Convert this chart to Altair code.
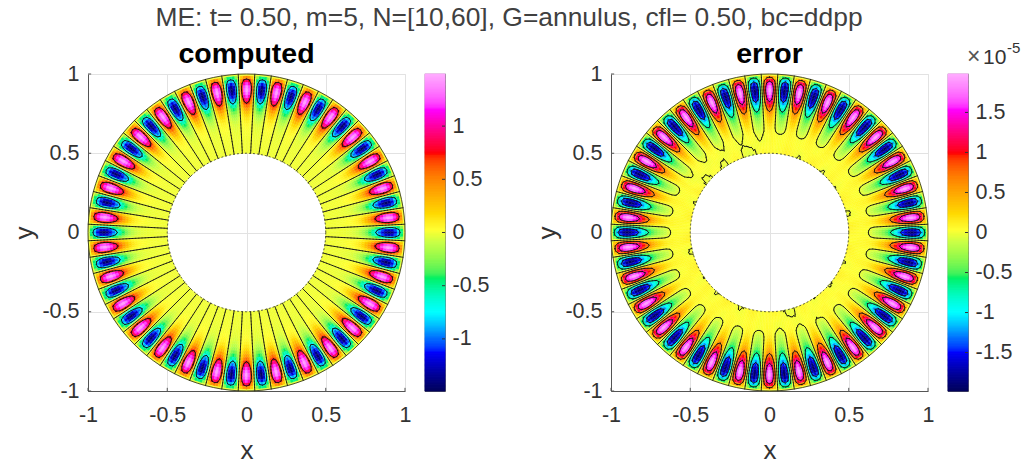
import math
import numpy as np
import pandas as pd
import altair as alt

FONT = "Liberation Sans"
TITLE = "ME: t= 0.50, m=5, N=[10,60], G=annulus, cfl= 0.50, bc=ddpp"

# radii of the annulus sample rings
r_nodes = [.50, .52, .54, .56, .58, .60, .62, .64, .66, .68, .70, .72, .74, .76, .78, .80, .82, .84, .86, .88, .90, .92, .94, .96, .98, 1.00]
# amplitude of the lobes with radius
computed_amp = [.002, .002, .003, .004, .006, .009, .013, .02, .03, .05, .08, .13, .2, .3, .42, .58, .78, 1.0, 1.22, 1.38, 1.46, 1.4, 1.2, .9, .5, .02]
error_amp = [.004, .005, .007, .01, .015, .02, .035, .08, .14, .2, .27, .36, .48, .62, .8, 1.0, 1.25, 1.5, 1.72, 1.88, 1.95, 1.85, 1.6, 1.2, .65, .03]
# small positive background of the error near the inner circle
error_bias = [.05, .05, .05, .05, .05, .05, .05, .02, .005, 0, 0, 0, 0, 0, 0, 0, 0, 0, 0, 0, 0, 0, 0, 0, 0, 0]
# strength of that background per 30 degree sector
error_sector = [1, 1, .9, .3, .4, 1, 1, 1, .8, .5, .9, 1]
# irregular ripple at the inner circle, per 2 degrees
error_ripple = [.03, .05, .06, .04, 0, -.03, -.06, -.07, -.05, -.02, .02, .05, .07, .05, .02, -.01, -.04, -.05, -.03, .01, .04, .03, 0, -.03, -.06, -.05, -.02, .01, .05, .07, .06, .03, -.01, -.04, -.06, -.04, -.01, .02, .04, .06, .04, .01, -.02, -.01, .01]
# one period (12 degrees) of the lobe pattern around the circle
lobe_period = [-1, -.87, -.5, 0, .5, .87, 1, .87, .5, 0, -.5, -.87]

tick_vals = [-1, -.5, 0, .5, 1]
cb1_ticks = [-1, -.5, 0, .5, 1]
cb2_ticks = [-1.5, -1, -.5, 0, .5, 1, 1.5]
computed_limit = 1.49
error_limit = 1.98
computed_levels = [-.73, 0, .73]
error_levels = [-1.3, -.65, 0, .65, 1.3]

cmap_pos = [0, .055, .125, .17, .25, .36, .47, .51, .66, .75, .89, 1]
cmap_col = ["#00005a", "#00009a", "#0000ff", "#0070ff", "#00ffff", "#00f060", "#c8ff46", "#ffff32", "#ff8c00", "#ff0000", "#ff00ff", "#ffaaff"]

W = 317
CB = 20
THETAS = 360


def field(amp, bias=None):
    grid = np.zeros((len(r_nodes), THETAS))
    for i, a in enumerate(amp):
        for j in range(THETAS):
            v = a * lobe_period[j % 12]
            if bias is not None:
                v += bias[i] * error_sector[j // 30]
                if r_nodes[i] < .58:
                    v += error_ripple[(j // 2) % len(error_ripple)] * (.58 - r_nodes[i]) / .08
            grid[i, j] = v
    return grid


def cells(grid):
    rows = []
    n = len(r_nodes)
    for i in range(n):
        r0 = r_nodes[i] if i == 0 else (r_nodes[i - 1] + r_nodes[i]) / 2
        r1 = r_nodes[i] if i == n - 1 else (r_nodes[i] + r_nodes[i + 1]) / 2
        for j in range(THETAS):
            rows.append((r0, r1, 90 - j + .5, 90 - j - .5, round(float(grid[i, j]), 4)))
    return pd.DataFrame(rows, columns=["r0", "r1", "t0", "t1", "v"])


def contour(grid, levels):
    segs = []
    def pt(i, j):
        t = math.radians(j)
        return r_nodes[i] * math.cos(t), r_nodes[i] * math.sin(t)
    for lev in levels:
        for i in range(len(r_nodes) - 1):
            for j in range(THETAS):
                k = (j + 1) % THETAS
                corners = [(i, j), (i, j + 1), (i + 1, j + 1), (i + 1, j)]
                vals = [grid[i, j], grid[i, k], grid[i + 1, k], grid[i + 1, j]]
                xs = []
                for a in range(4):
                    b = (a + 1) % 4
                    if (vals[a] >= lev) != (vals[b] >= lev):
                        f = (lev - vals[a]) / (vals[b] - vals[a])
                        pa, pb = pt(*corners[a]), pt(*corners[b])
                        xs.append((pa[0] + f * (pb[0] - pa[0]), pa[1] + f * (pb[1] - pa[1])))
                for s in range(0, len(xs) - 1, 2):
                    segs.append((round(xs[s][0], 4), round(xs[s][1], 4), round(xs[s + 1][0], 4), round(xs[s + 1][1], 4)))
    return pd.DataFrame(segs, columns=["x", "y", "x2", "y2"])


def circle(radius):
    return pd.DataFrame({
        "x": [radius * math.cos(math.radians(a)) for a in range(0, 361, 3)],
        "y": [radius * math.sin(math.radians(a)) for a in range(0, 361, 3)],
        "o": list(range(0, 361, 3)),
    })


def colour_scale(limit):
    return alt.Scale(domain=[-limit + 2 * limit * p for p in cmap_pos], range=cmap_col, clamp=True)


def panel(grid, levels, limit, name):
    xs = alt.Scale(domain=[-1, 1], nice=False, zero=False)
    ys = alt.Scale(domain=[-1, 1], nice=False, zero=False)
    common = dict(values=tick_vals, labelExpr="datum.value", grid=True, gridColor="#e2e2e2", gridWidth=1,
                  tickSize=0, domainColor="#555555", domainWidth=1, labelFont=FONT, labelFontSize=21.5, labelFlush=False,
                  labelColor="#333333", titleFont=FONT, titleFontSize=26, titleColor="#333333", titleFontWeight="normal")
    xax = alt.Axis(title="x", labelPadding=13, titlePadding=12, labelAngle=0, **common)
    yax = alt.Axis(title="y", labelPadding=9, titlePadding=4, **common)

    ticks = pd.DataFrame({"v": tick_vals, "lo": [-1] * 5, "in": [-.98] * 5})
    left = alt.Chart(ticks).mark_rule(color="#555555", strokeWidth=1).encode(
        x=alt.X("lo:Q", scale=xs, axis=xax), x2="in:Q", y=alt.Y("v:Q", scale=ys, axis=yax))
    bottom = alt.Chart(ticks).mark_rule(color="#555555", strokeWidth=1).encode(
        x=alt.X("v:Q", scale=xs, axis=xax), y=alt.Y("lo:Q", scale=ys, axis=yax), y2="in:Q")

    cs = colour_scale(limit)
    arcs = alt.Chart(cells(grid)).mark_arc(strokeWidth=.4).encode(
        theta=alt.Theta("t0:Q", scale=alt.Scale(domain=[0, 360]), stack=None),
        theta2="t1:Q",
        radius=alt.Radius("r1:Q", scale=alt.Scale(domain=[0, 1], range=[0, W / 2], zero=True)),
        radius2="r0:Q",
        color=alt.Color("v:Q", scale=cs, legend=None),
        stroke=alt.Stroke("v:Q", scale=cs, legend=None),
    )
    lines = alt.Chart(contour(grid, levels)).mark_rule(color="#111111", strokeWidth=.9, strokeCap="round").encode(
        x=alt.X("x:Q", scale=xs, axis=xax), x2="x2:Q", y=alt.Y("y:Q", scale=ys, axis=yax), y2="y2:Q")
    outer = alt.Chart(circle(1)).mark_line(color="#222222", strokeWidth=.8).encode(
        x=alt.X("x:Q", scale=xs, axis=xax), y=alt.Y("y:Q", scale=ys, axis=yax), order="o:Q")
    inner = alt.Chart(circle(.5)).mark_line(color="#333333", strokeWidth=.8, strokeDash=[2, 2]).encode(
        x=alt.X("x:Q", scale=xs, axis=xax), y=alt.Y("y:Q", scale=ys, axis=yax), order="o:Q")
    return alt.layer(left, bottom, arcs, lines, outer, inner).resolve_scale(color="independent", stroke="independent").properties(
        width=W, height=W,
        title=alt.TitleParams(name, font=FONT, fontSize=28.5, fontWeight="bold", color="#000000", offset=-5),
        view=alt.ViewConfig(stroke="#e2e2e2"),
    )


def colourbar(limit, tick_values, extra=None):
    edges = np.linspace(-limit, limit, 257)
    d = pd.DataFrame({"a": edges[:-1], "b": edges[1:], "v": (edges[:-1] + edges[1:]) / 2, "x": [0] * 256, "x1": [1] * 256})
    ys = alt.Scale(domain=[-limit, limit], nice=False, zero=False)
    bx = alt.Scale(domain=[0, 1])
    bar = alt.Chart(d).mark_rect(strokeWidth=1).encode(
        x=alt.X("x:Q", scale=bx, axis=None), x2="x1:Q",
        y=alt.Y("a:Q", scale=ys, axis=alt.Axis(orient="right", values=tick_values, labelExpr="datum.value", title=None,
                                                 grid=False, tickSize=0, domain=False, labelFont=FONT, labelFontSize=21.5,
                                                 labelFlush=False, labelColor="#333333", labelPadding=7)),
        y2="b:Q",
        color=alt.Color("v:Q", scale=colour_scale(limit), legend=None),
        stroke=alt.Stroke("v:Q", scale=colour_scale(limit), legend=None),
    )
    t = pd.DataFrame({"v": tick_values, "p": [.85] * len(tick_values), "q": [1] * len(tick_values)})
    marks = alt.Chart(t).mark_rule(color="#333333", strokeWidth=1).encode(
        x=alt.X("p:Q", scale=bx, axis=None), x2="q:Q", y=alt.Y("v:Q", scale=ys))
    layers = [bar, marks]
    if extra:
        layers += extra
    return alt.layer(*layers).resolve_scale(color="independent", stroke="independent").properties(
        width=CB, height=W, view=alt.ViewConfig(stroke="#666666", strokeWidth=1.2))


exp_base = alt.Chart(pd.DataFrame({"s": ["×"]})).mark_text(font=FONT, fontSize=23, color="#555555", align="left", baseline="alphabetic").encode(
    x=alt.value(19), y=alt.value(-10), text="s:N")
exp_ten = alt.Chart(pd.DataFrame({"s": ["10"]})).mark_text(font=FONT, fontSize=21, color="#333333", align="left", baseline="alphabetic").encode(
    x=alt.value(35), y=alt.value(-10), text="s:N")
exp_pow = alt.Chart(pd.DataFrame({"s": ["-5"]})).mark_text(font=FONT, fontSize=15, color="#333333", align="left", baseline="alphabetic").encode(
    x=alt.value(59), y=alt.value(-21), text="s:N")

g1 = field(computed_amp)
g2 = field(error_amp, error_bias)

# gap between the first colour bar and the second panel, holding the figure title
spacer = alt.Chart(pd.DataFrame({"s": [TITLE]})).mark_text(font=FONT, fontSize=26.4, color="#404040", align="center", baseline="alphabetic").encode(
    x=alt.value(44), y=alt.value(-48), text="s:N").properties(width=126, height=W, view=alt.ViewConfig(stroke=None))

chart = alt.hconcat(panel(g1, computed_levels, computed_limit, "computed"),
                    colourbar(computed_limit, cb1_ticks),
                    spacer,
                    panel(g2, error_levels, error_limit, "error"),
                    colourbar(error_limit, cb2_ticks, [exp_base, exp_ten, exp_pow]),
                    spacing=20, bounds="flush").properties(
    padding={"left": 3, "top": -3, "right": 0, "bottom": 3})

chart.save("out.html", embed_options={"renderer": "svg", "actions": False})
